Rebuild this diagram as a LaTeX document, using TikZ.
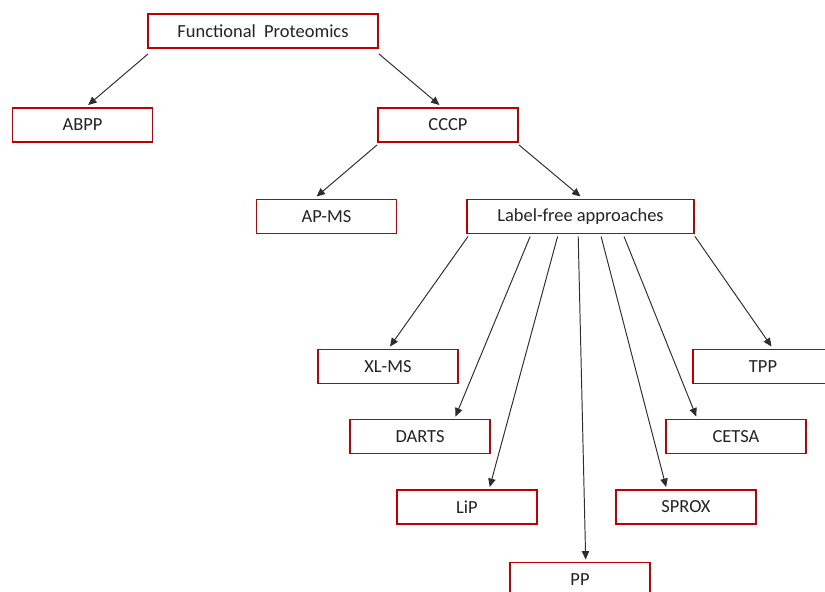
\documentclass[tikz,border=0pt]{standalone}
\usepackage{fontspec}
\setmainfont{Carlito}
\usetikzlibrary{arrows.meta,calc}
\definecolor{boxred}{RGB}{192,0,0}
\definecolor{linegray}{RGB}{45,45,45}
\definecolor{textgray}{RGB}{35,35,35}

\begin{document}
\begin{tikzpicture}[
	box/.style={draw=boxred, line width=1.1pt, fill=white, text=textgray, minimum width=2.8cm, minimum height=0.68cm, inner sep=0pt, font=\fontsize{10.5}{12}\selectfont},
	link/.style={draw=linegray, line width=0.55pt, -{Triangle[length=4.8pt,width=4.2pt]}}
	]
	\clip (0,0) rectangle (16.5,11.84);
		%Top levels
			\node[box, minimum width=4.6cm] (fp) at (5.26,11.22) {Functional\ \ Proteomics};
			\node[box] (abpp) at (1.65,9.34) {ABPP};
			\node[box] (cccp) at (8.96,9.34) {CCCP};
			\node[box] (apms) at (6.53,7.51) {AP-MS};
			\node[box, minimum width=4.54cm] (lfa) at (11.61,7.51) {Label-free approaches};
		%Label-free methods
			\node[box] (xlms) at (7.76,4.51) {XL-MS};
			\node[box] (tpp) at (15.26,4.51) {TPP};
			\node[box] (darts) at (8.4,3.11) {DARTS};
			\node[box] (cetsa) at (14.72,3.11) {CETSA};
			\node[box] (lip) at (9.34,1.70) {LiP};
			\node[box] (sprox) at (13.72,1.70) {SPROX};
			\node[box] (pp) at (11.6,0.25) {PP};
		%Arrows from the top
			\draw[link] ($(fp.south west)+(0.02,-0.1)$) -- ($(abpp.north west)!0.54!(abpp.north east)+(0,0.04)$);
			\draw[link] ($(fp.south east)+(0,-0.1)$) -- ($(cccp.north west)!0.44!(cccp.north east)+(0,0.04)$);
			\draw[link] ($(cccp.south west)+(0,-0.04)$) -- ($(apms.north west)!0.43!(apms.north east)+(0,0.04)$);
			\draw[link] ($(cccp.south east)+(0,-0.04)$) -- ($(lfa.north)+(0,0.04)$);
		%Arrows from label-free approaches
			\draw[link] ($(lfa.south west)+(0.04,-0.04)$) -- ($(xlms.north)+(0.04,0.04)$);
			\draw[link] ($(lfa.south west)!0.28!(lfa.south east)+(0,-0.04)$) -- ($(darts.north west)!0.75!(darts.north east)+(0,0.04)$);
			\draw[link] ($(lfa.south west)!0.40!(lfa.south east)+(0,-0.04)$) -- ($(lip.north west)!0.66!(lip.north east)+(0,0.04)$);
			\draw[link] ($(lfa.south west)!0.49!(lfa.south east)+(0,-0.04)$) -- ($(pp.north west)!0.54!(pp.north east)+(0,0.04)$);
			\draw[link] ($(lfa.south west)!0.59!(lfa.south east)+(0,-0.04)$) -- ($(sprox.north west)!0.36!(sprox.north east)+(0,0.04)$);
			\draw[link] ($(lfa.south west)!0.69!(lfa.south east)+(0,-0.04)$) -- ($(cetsa.north west)!0.22!(cetsa.north east)+(0,0.04)$);
			\draw[link] ($(lfa.south east)+(0,-0.04)$) -- ($(tpp.north west)!0.56!(tpp.north east)+(0,0.04)$);
\end{tikzpicture}
\end{document}
